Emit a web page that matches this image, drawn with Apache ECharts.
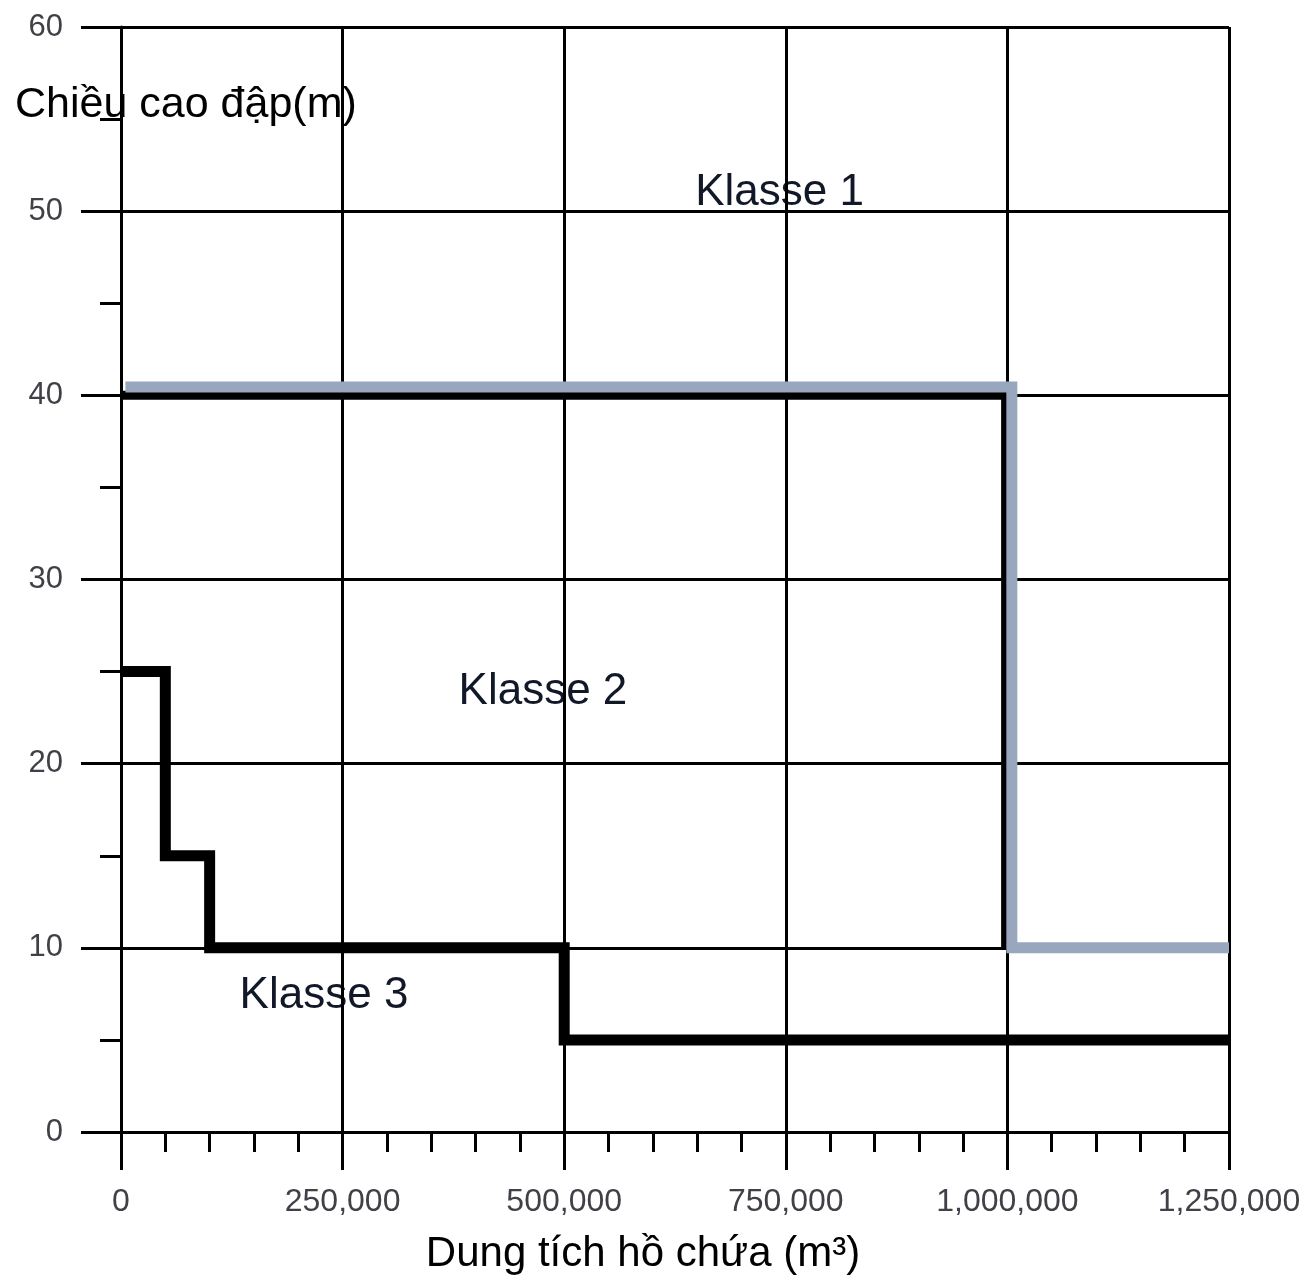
<!DOCTYPE html>
<html>
<head>
<meta charset="utf-8">
<script src="https://cdn.jsdelivr.net/npm/echarts@6/dist/echarts.min.js"></script>
<style>
html,body{margin:0;padding:0;background:#fff;}
#chart{width:1307px;height:1288px;}
</style>
</head>
<body>
<div id="chart"></div>
<script>
// Boundary between Klasse 2 and Klasse 3 (stepped black line)
const klasse3Boundary = [[0, 25], [50000, 25], [50000, 15], [100000, 15], [100000, 10], [500000, 10], [500000, 5], [1250000, 5]];
// Boundary between Klasse 1 and Klasse 2 (black line under the grey one)
const klasse2BoundaryBlack = [[0, 40], [998000, 40], [998000, 10]];
// Grey boundary line (slightly offset in the picture)
const klasse2BoundaryGrey = [[5000, 40.45], [1005000, 40.45], [1005000, 10], [1250000, 10]];
// Region labels
const regionLabels = [[743000, 51.0, 'Klasse 1'], [476000, 23.9, 'Klasse 2'], [229000, 7.4, 'Klasse 3']];
// Tick labels
const xTickLabels = ['0', '250,000', '500,000', '750,000', '1,000,000', '1,250,000'];
const yTickLabels = ['0', '10', '20', '30', '40', '50', '60'];

const FONT = '"Liberation Sans", Arial, sans-serif';
const chart = echarts.init(document.getElementById('chart'), null, {renderer: 'canvas'});
chart.setOption({
  backgroundColor: '#ffffff',
  animation: false,
  title: {
    text: 'Chiều cao đập(m)',
    left: 15, top: 84, padding: 0, z: -1,
    textStyle: {fontFamily: FONT, fontSize: 43, fontWeight: 'normal', color: '#000'}
  },
  grid: {left: 121, right: 78, top: 27, bottom: 156, containLabel: false, outerBoundsMode: 'none'},
  xAxis: {
    type: 'value', min: 0, max: 1250000, interval: 250000,
    name: 'Dung tích hồ chứa (m³)', nameLocation: 'middle', nameGap: 101,
    nameTextStyle: {fontFamily: FONT, fontSize: 42, color: '#000', padding: [0, 64, 0, 0]},
    axisLine: {show: true, onZero: false, lineStyle: {color: '#000', width: 3}},
    axisTick: {show: true, length: 38, lineStyle: {color: '#000', width: 3}},
    minorTick: {show: true, splitNumber: 5, length: 20, lineStyle: {color: '#000', width: 3}},
    axisLabel: {margin: 54, fontFamily: FONT, fontSize: 32, color: '#404048',
      formatter: v => xTickLabels[Math.round(v / 250000)]},
    splitLine: {show: true, lineStyle: {color: '#000', width: 3}},
    minorSplitLine: {show: false}
  },
  yAxis: {
    type: 'value', min: 0, max: 60, interval: 10,
    axisLine: {show: true, onZero: false, lineStyle: {color: '#000', width: 3}},
    axisTick: {show: true, length: 40, lineStyle: {color: '#000', width: 3}},
    minorTick: {show: true, splitNumber: 2, length: 21, lineStyle: {color: '#000', width: 3}},
    axisLabel: {margin: 58, fontFamily: FONT, fontSize: 31, color: '#404048',
      formatter: v => yTickLabels[Math.round(v / 10)]},
    splitLine: {show: true, lineStyle: {color: '#000', width: 3}},
    minorSplitLine: {show: false}
  },
  series: [
    {
      type: 'scatter', data: regionLabels, symbolSize: 0, z: -1, silent: true,
      itemStyle: {opacity: 1},
      label: {show: true, position: 'inside', formatter: p => p.data[2], opacity: 1,
        fontFamily: FONT, fontSize: 44, color: '#111827'}
    },
    {
      type: 'line', data: klasse3Boundary, symbol: 'none', z: 3,
      lineStyle: {color: '#000', width: 11, join: 'miter', cap: 'butt'}
    },
    {
      type: 'line', data: klasse2BoundaryBlack, symbol: 'none', z: 3,
      lineStyle: {color: '#000', width: 9, join: 'miter', cap: 'butt'}
    },
    {
      type: 'line', data: klasse2BoundaryGrey, symbol: 'none', z: 4,
      lineStyle: {color: '#98a6be', width: 11, join: 'miter', cap: 'butt'}
    }
  ]
});
</script>
</body>
</html>
